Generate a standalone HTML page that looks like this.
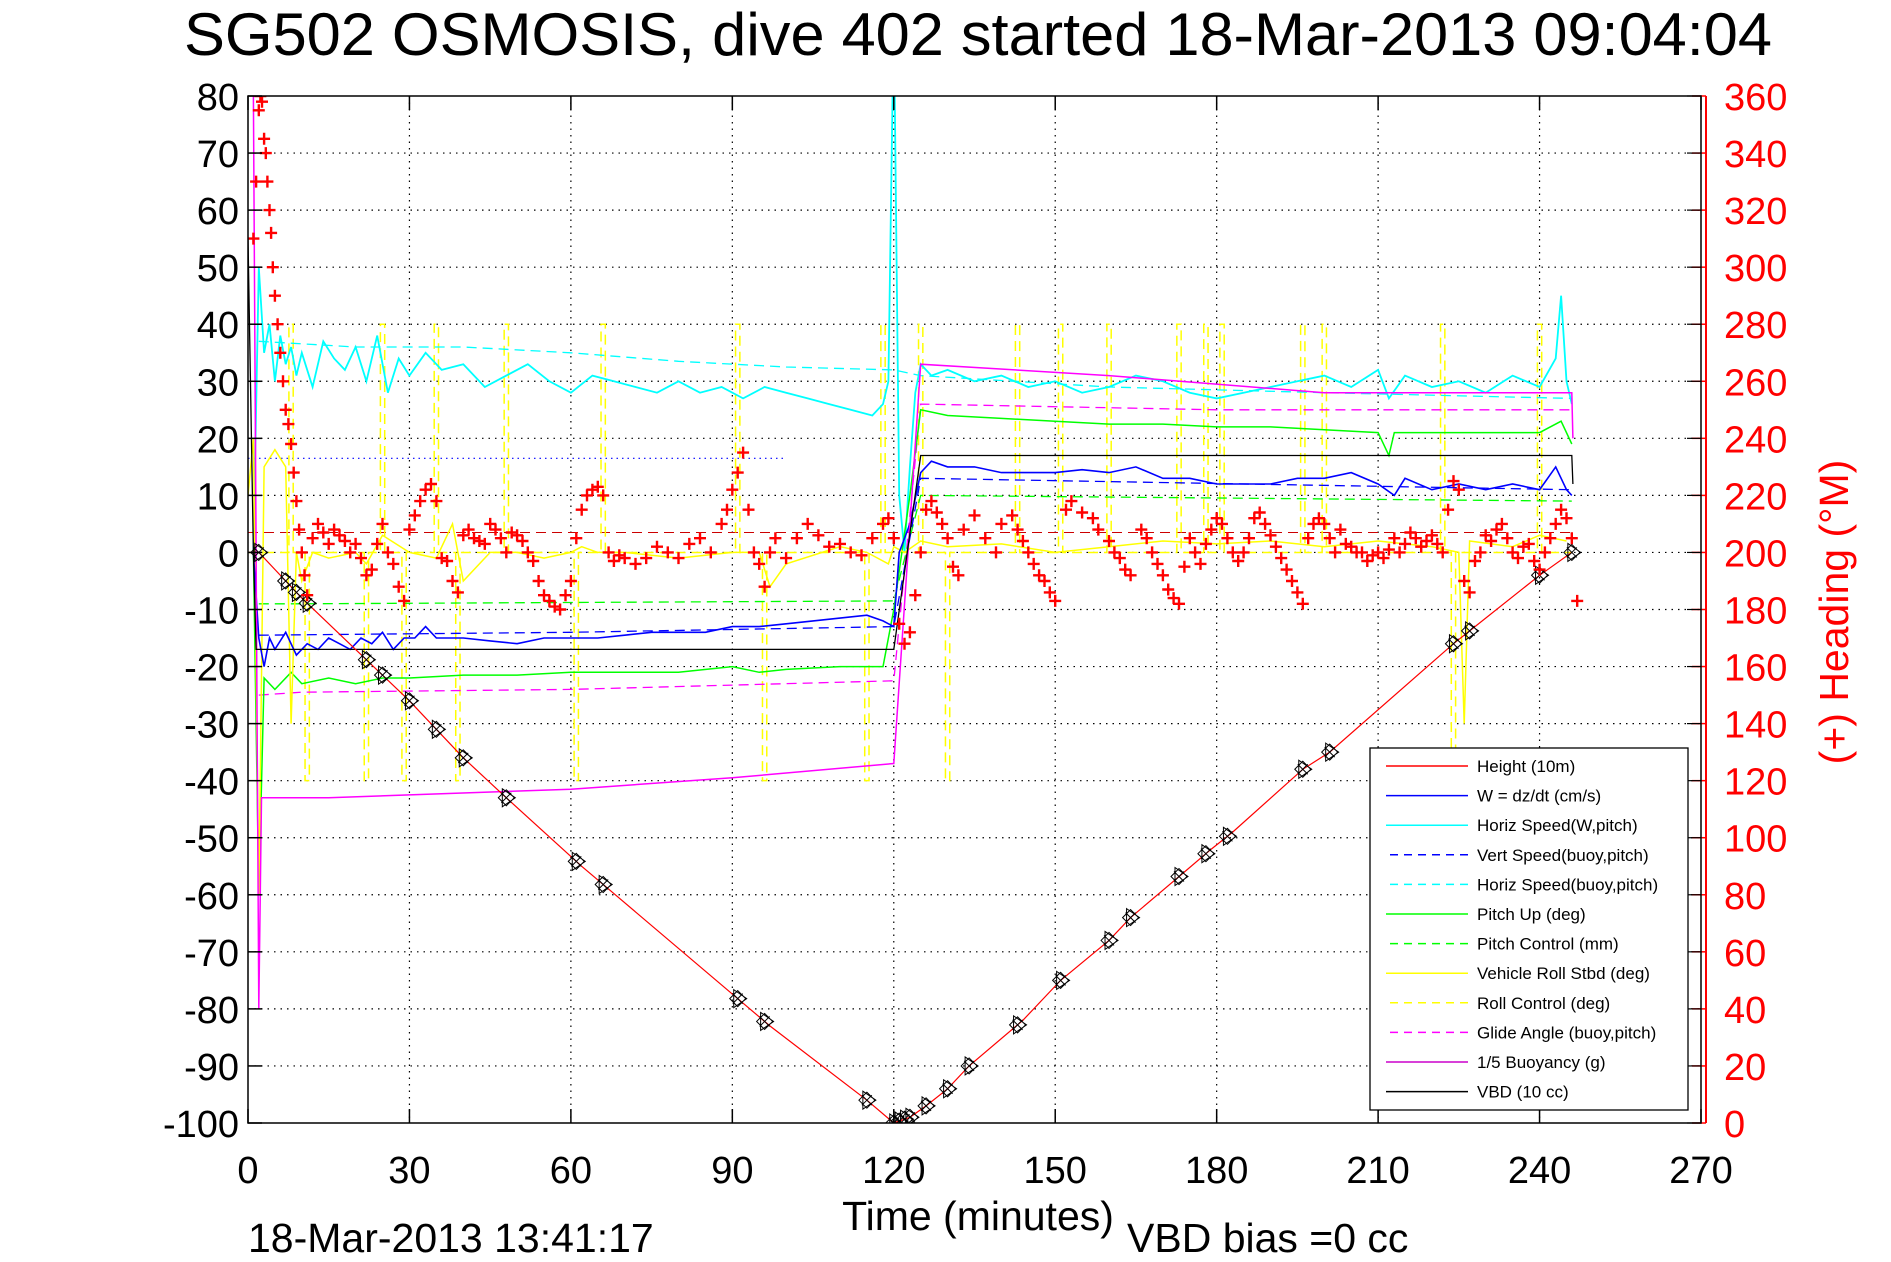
<!DOCTYPE html>
<html><head><meta charset="utf-8"><style>
html,body{margin:0;padding:0;background:#fff}
svg{display:block}
text{font-family:"Liberation Sans",sans-serif}
</style></head><body>
<svg id="chart" width="1891" height="1262" viewBox="0 0 1891 1262" xmlns="http://www.w3.org/2000/svg">
<defs><clipPath id="plotclip"><rect x="248" y="96" width="1453" height="1027"/></clipPath></defs>
<text x="978" y="55" font-size="60" text-anchor="middle" textLength="1588" lengthAdjust="spacingAndGlyphs">SG502 OSMOSIS, dive 402 started 18-Mar-2013 09:04:04</text>
<g id="grid"></g>
<g id="series" clip-path="url(#plotclip)"></g>
<g id="axes"></g>
<text x="978" y="1230" font-size="41" text-anchor="middle">Time (minutes)</text>
<text x="248" y="1252" font-size="41">18-Mar-2013 13:41:17</text>
<text x="1127" y="1252" font-size="41">VBD bias =0 cc</text>
<text transform="translate(1848,612) rotate(-90)" font-size="41" fill="#f00" text-anchor="middle">(+) Heading (°M)</text>
<g id="legend"></g>
</svg>
<script>
const xTicks=[0,30,60,90,120,150,180,210,240,270];
const yTicks=[80,70,60,50,40,30,20,10,0,-10,-20,-30,-40,-50,-60,-70,-80,-90,-100];
const hTicks=[0,20,40,60,80,100,120,140,160,180,200,220,240,260,280,300,320,340,360];

const heightT=[0,2,10,30,40,48,62,67,92,97,115,120,123,126,130,134,144,151,160,164,174,179,183,196,201,224,228,240,246];
const heightV=[0,0,-8,-26,-36,-43,-55,-59,-79,-83,-96,-100,-99,-97,-94,-90,-82,-75,-68,-64,-56,-52,-49,-38,-35,-16,-13,-4,0];
const markerT=[2,7,9,11,22,25,30,35,40,48,61,66,91,96,115,120,121,122,123,126,130,134,143,151,160,164,173,178,182,196,201,224,227,240,246];

const wT=[1,2,3,4,5,7,9,11,13,15,17,19,21,23,25,27,29,31,33,35,40,45,50,55,60,65,70,75,80,85,90,95,100,105,110,115,118,120,121,123,125,127,130,135,140,145,150,155,160,165,170,175,180,185,190,195,200,205,210,213,215,220,225,230,235,240,243,245,246];
const wV=[0,-15,-20,-15,-17,-14,-18,-16,-17,-15,-16,-17,-15,-16,-14,-17,-15,-15,-13,-15,-15,-15.5,-16,-15,-15,-15,-14.5,-14,-14,-14,-13,-13,-12.5,-12,-11.5,-11,-12,-13,0,5,14,16,15,15,14,14,14,14.5,14,15,13,13,12,12,12,13,13,14,12,10,13,11,12,11,12,11,15,11,10];

const hsT=[1,2,3,4,5,6,7,8,9,10,12,14,16,18,20,22,24,26,28,30,33,36,40,44,48,52,56,60,64,68,72,76,80,84,88,92,96,100,104,108,112,116,118,119,120,121,122,123,124,125,127,130,135,140,145,150,155,160,165,170,175,180,185,190,195,200,205,210,212,215,220,225,230,235,240,243,244,245,246];
const hsV=[0,50,35,40,30,38,33,36,31,35,29,37,34,32,36,30,38,28,34,31,35,32,33,29,31,33,30,28,31,30,29,28,30,28,29,27,29,28,27,26,25,24,26,30,95,10,0,15,28,33,31,32,30,31,29,30,28,29,31,30,28,27,28,29,30,31,29,32,27,31,29,30,28,31,29,34,45,30,26];

const vsbT=[2,60,120,125,246];  const vsbV=[-14.5,-14,-13,13,11];
const hsbT=[2,20,40,60,80,100,120,125,160,200,246]; const hsbV=[37,36,36,35,33.5,32.5,32,31,29,28,27];
const pitchT=[1,2,3,5,8,10,15,20,25,30,40,50,60,70,80,90,95,100,110,118,120,123,125,130,140,150,160,170,180,190,200,210,212,213,220,230,240,244,246];
const pitchV=[0,-60,-22,-24,-21,-23,-22,-23,-22,-22,-21.5,-21.5,-21,-21,-21,-20,-21,-20.5,-20,-20,-10,10,25,24,23.5,23,22.5,22.5,22,22,21.5,21,17,21,21,21,21,23,19];
const pctlT=[2,10,120,125,246]; const pctlV=[-9,-9,-8.5,10,9];
const glideT=[2,10,60,120,125,180,246]; const glideV=[-25,-24.5,-24,-22.5,26,25,25];
const buoyT=[1,1.5,2,2.5,15,30,60,90,120,125,160,200,246,246.2]; const buoyV=[80,0,-80,-43,-43,-42.5,-41.5,-39.5,-37,33,31,28,28,20];
const vbdT=[0,1,1.5,120,125,246,246.2]; const vbdV=[55,0,-17,-17,17,17,12];
const rollT=[0,1,2,3,5,7,8,9,10,12,15,20,22,25,30,35,38,40,45,50,55,60,62,65,70,80,90,95,97,100,110,115,119,120,122,125,130,140,150,160,170,180,190,200,210,220,225,226,227,235,240,245];
const rollV=[10,20,-60,15,18,15,-30,0,-5,0,-1,0,-2,3,0,-1,5,-5,0,0,-1,0,1,0,0,-1,0,0,-6,-2,1,0,-2,1,0,2,1,1.5,0,1,2,1.5,2,1,2,1,0,-30,2,1,3,2];
const rollCtlT=[8,11,22,25,29,35,39,48,61,66,91,96,115,118,125,130,143,151,160,173,178,181,196,200,222,224,240];
const rollCtlV=[40,-40,-40,40,-40,40,-40,40,-40,40,40,-40,-40,40,40,-40,40,40,40,40,40,40,40,40,40,-35,40];
const headT=[1,1.5,2,2.3,2.6,3,3.3,3.6,4,4.3,4.6,5,5.5,6,6.5,7,7.5,8,8.5,9,9.5,10,10.5,11,12,13,14,15,16,17,18,19,20,21,22,23,24,25,26,27,28,29,30,31,32,33,34,35,36,37,38,39,40,41,42,43,44,45,46,47,48,49,50,51,52,53,54,55,56,57,58,59,60,61,62,63,64,65,66,67,68,69,70,72,74,76,78,80,82,84,86,88,89,90,91,92,93,94,95,96,97,98,100,102,104,106,108,110,112,114,116,118,119,120,121,122,123,124,125,126,127,128,129,130,131,132,133,135,137,139,140,142,143,144,145,146,147,148,149,150,152,153,155,157,158,160,161,162,163,164,166,167,168,169,170,171,172,173,174,175,176,177,178,179,180,181,182,183,184,185,186,187,188,189,190,191,192,193,194,195,196,197,198,199,200,201,202,203,204,205,206,207,208,209,210,211,212,213,214,215,216,217,218,219,220,221,222,223,224,225,226,227,228,229,230,231,232,233,234,235,236,237,238,239,240,241,242,243,244,245,246,247];
const headV=[310,330,355,360,358,345,340,330,320,312,300,290,280,270,260,250,245,238,228,218,208,200,192,185,205,210,207,203,208,206,204,200,203,198,192,194,203,210,200,196,188,183,208,213,218,222,224,218,198,197,190,186,206,208,205,204,203,210,208,205,200,207,206,204,200,197,190,185,183,181,180,185,190,205,215,220,222,223,220,200,197,199,198,196,198,202,200,198,203,205,200,210,215,222,228,235,215,200,196,188,200,205,198,205,210,206,202,203,200,199,205,210,212,205,175,168,172,185,200,215,218,214,210,205,195,192,208,213,205,200,210,213,208,204,200,196,192,190,186,183,215,218,214,212,208,204,200,198,194,192,208,205,200,196,192,187,184,182,195,205,200,196,203,208,212,210,205,200,197,200,205,212,214,210,206,202,198,194,190,186,182,205,210,212,210,205,200,208,203,202,200,200,197,199,200,198,201,205,200,203,207,205,202,204,206,203,200,215,225,222,190,186,197,200,206,204,208,210,205,200,198,202,203,197,194,200,205,210,215,212,205,183];

const NS='http://www.w3.org/2000/svg';
const L=248,R=1701,T=96,B=1123;
const X=t=>L+t*(R-L)/270;
const Y=v=>B-(v+100)*(B-T)/180;
const YH=h=>B-h*(B-T)/360;
function mk(tag,attrs,parent){const e=document.createElementNS(NS,tag);for(const k in attrs)e.setAttribute(k,attrs[k]);parent.appendChild(e);return e;}
const grid=document.getElementById('grid'),ser=document.getElementById('series'),axes=document.getElementById('axes'),leg=document.getElementById('legend');

xTicks.forEach(t=>{
  if(t>0&&t<270){const g=mk('line',{x1:X(t),x2:X(t),y1:T,y2:B,stroke:'#000','stroke-width':1.2,'stroke-dasharray':'1.5 5'},grid);
  
  }
  const tk=mk('line',{x1:X(t),x2:X(t),y1:B,y2:B-14,stroke:'#000','stroke-width':1.5},axes);
  
  
  mk('line',{x1:X(t),x2:X(t),y1:T,y2:T+14,stroke:'#000','stroke-width':1.5},axes);
  const lb=mk('text',{x:X(t),y:1183,'font-size':38,'text-anchor':'middle'},axes);lb.textContent=t;
  
  
});
yTicks.forEach(v=>{
  if(v<80&&v>-100){const g=mk('line',{x1:L,x2:R,y1:Y(v),y2:Y(v),stroke:'#000','stroke-width':1.2,'stroke-dasharray':'1.5 5'},grid);
  
  }
  const tk=mk('line',{x1:L,x2:L+14,y1:Y(v),y2:Y(v),stroke:'#000','stroke-width':1.5},axes);
  
  
  const lb=mk('text',{x:239,y:Y(v)+14,'font-size':38,'text-anchor':'end'},axes);lb.textContent=v;
  
  
});
hTicks.forEach(h=>{
  const tk=mk('line',{x1:1706,x2:1692,y1:YH(h),y2:YH(h),stroke:'#f00','stroke-width':1.5},axes);
  
  
  mk('line',{x1:1701,x2:1687,y1:YH(h),y2:YH(h),stroke:'#000','stroke-width':1.2},axes);
  const lb=mk('text',{x:1724,y:YH(h)+14,'font-size':38,fill:'#f00'},axes);lb.textContent=h;
  
  
});
const frame=mk('rect',{x:L,y:T,width:R-L,height:B-T,fill:'none',stroke:'#000','stroke-width':1.5},axes);


const rax=mk('line',{x1:1706,x2:1706,y1:T,y2:B,stroke:'#f00','stroke-width':2},axes);



function line(ts,vs,color,dash,w,name){
  const p=ts.map((t,i)=>(i?'L':'M')+X(t).toFixed(1)+','+Y(vs[i]).toFixed(1)).join('');
  const e=mk('path',{d:p,fill:'none',stroke:color,'stroke-width':w||1.3},ser);
  if(dash)e.setAttribute('stroke-dasharray',dash);
  
  
}
const refH=mk('line',{x1:X(0),x2:X(246),y1:YH(207),y2:YH(207),stroke:'#c00','stroke-width':1,'stroke-dasharray':'10 6'},ser);


const refB=mk('line',{x1:X(0),x2:X(100),y1:Y(16.5),y2:Y(16.5),stroke:'#00f','stroke-width':1.2,'stroke-dasharray':'1.5 4'},ser);



let rp='M'+X(0)+','+Y(0);
rollCtlT.forEach((t,i)=>{rp+='L'+X(t-0.4)+','+Y(0)+'L'+X(t-0.4)+','+Y(rollCtlV[i])+'L'+X(t+0.4)+','+Y(rollCtlV[i])+'L'+X(t+0.4)+','+Y(0);});
rp+='L'+X(246)+','+Y(0);
const rc=mk('path',{d:rp,fill:'none',stroke:'#ff0','stroke-width':1.5,'stroke-dasharray':'10 6'},ser);



line(hsbT,hsbV,'#0ff','10 6',1.3,'horiz-speed-buoy-series');
line(hsT,hsV,'#0ff',null,1.8,'horiz-speed-w-series');
line(glideT,glideV,'#f0f','10 6',1.3,'glide-angle-series');
line(pitchT,pitchV,'#0f0',null,1.5,'pitch-up-series');
line(pctlT,pctlV,'#0f0','10 6',1.3,'pitch-control-series');
line(rollT,rollV,'#ff0',null,1.5,'vehicle-roll-series');
line(vsbT,vsbV,'#00f','10 6',1.3,'vert-speed-buoy-series');
line(wT,wV,'#00f',null,1.6,'w-series');
line(buoyT,buoyV,'#f0f',null,1.5,'buoyancy-series');
line(vbdT,vbdV,'#000',null,1.3,'vbd-series');
line(heightT,heightV,'#f00',null,1.2,'height-series');

function interpH(t){for(let i=1;i<heightT.length;i++){if(t<=heightT[i]){const a=heightT[i-1],b=heightT[i];return heightV[i-1]+(heightV[i]-heightV[i-1])*(t-a)/(b-a);}}return heightV[heightV.length-1];}
markerT.forEach(t=>{
  const cx=X(t),cy=Y(interpH(t)),s=8;
  const g=mk('path',{d:`M${cx-s},${cy}L${cx},${cy-s}L${cx+s},${cy}L${cx},${cy+s}Z M${cx-5},${cy-5}L${cx+5},${cy+5}M${cx-5},${cy+5}L${cx+5},${cy-5}M${cx-4},${cy-9}L${cx+9},${cy}L${cx-4},${cy+9}Z`,fill:'none',stroke:'#000','stroke-width':1},ser);
  
  
});
let hp='';
headT.forEach((t,i)=>{const cx=X(t),cy=YH(headV[i]);hp+=`M${(cx-6).toFixed(1)},${cy.toFixed(1)}h12M${cx.toFixed(1)},${(cy-6).toFixed(1)}v12`;});
const hd=mk('path',{d:hp,stroke:'#f00','stroke-width':2.4,fill:'none'},ser);



const lbox=mk('rect',{x:1370,y:748,width:318,height:362,fill:'#fff',stroke:'#000','stroke-width':1.3},leg);


const legNames=['Height (10m)','W = dz/dt (cm/s)','Horiz Speed(W,pitch)','Vert Speed(buoy,pitch)','Horiz Speed(buoy,pitch)','Pitch Up (deg)','Pitch Control (mm)','Vehicle Roll Stbd (deg)','Roll Control (deg)','Glide Angle (buoy,pitch)','1/5 Buoyancy (g)','VBD (10 cc)'];
const legColors=['#f00','#00f','#0ff','#00f','#0ff','#0f0','#0f0','#ff0','#ff0','#f0f','#c0c','#000'];
const legDash=[0,0,0,1,1,0,1,0,1,1,0,0];
legNames.forEach((n,i)=>{
  const y=766+i*29.6;
  const ln=mk('line',{x1:legDash[i]?1390:1386,x2:1468,y1:y,y2:y,stroke:legColors[i],'stroke-width':1.5},leg);
  if(legDash[i])ln.setAttribute('stroke-dasharray','8 6');
  
  
  const tx=mk('text',{x:1477,y:y+6,'font-size':17},leg);tx.textContent=n;
  
  
});
</script>
</body></html>
